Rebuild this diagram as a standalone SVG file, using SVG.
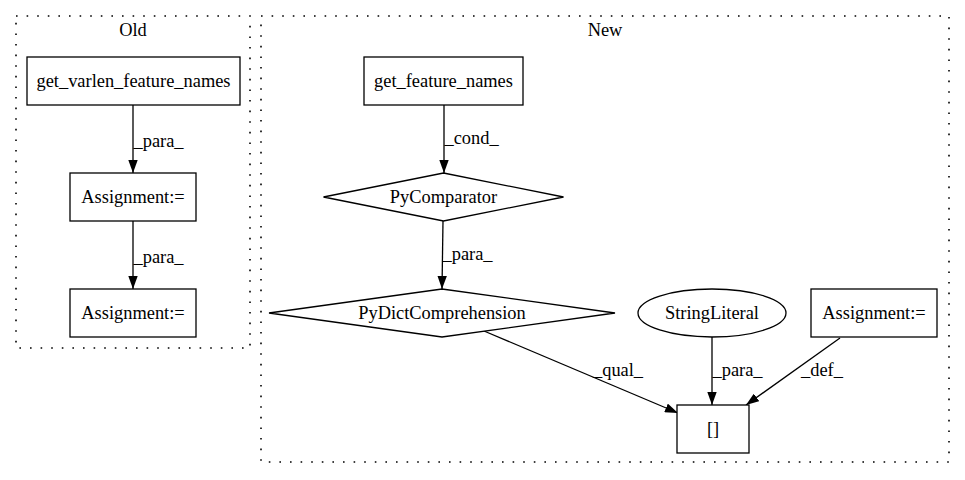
<svg xmlns="http://www.w3.org/2000/svg" width="965" height="480" viewBox="0 0 965 480">
<defs>
<style>
text { font-family: "Liberation Serif", "Times New Roman", serif; font-size: 18.4px; fill: #000; }
.c { text-anchor: middle; }
.cluster { fill: none; stroke: #000; stroke-dasharray: 1.6 9; stroke-width: 1.6; }
.node { fill: #fff; stroke: #000; stroke-width: 1.3; }
.edge { fill: none; stroke: #000; stroke-width: 1.3; }
</style>
<marker id="arr" markerWidth="13" markerHeight="9.4" refX="13" refY="4.7" orient="auto" markerUnits="userSpaceOnUse" viewBox="0 0 13 9.4">
<polygon points="0,0 13,4.7 0,9.4" fill="#000"/>
</marker>
</defs>
<rect width="965" height="480" fill="#fff"/>
<g id="cluster_old">
<rect class="cluster" x="16" y="16" width="234" height="332"/>
<text class="c" x="133" y="36">Old</text>
</g>
<g id="cluster_new">
<rect class="cluster" x="261" y="16" width="688" height="446"/>
<text class="c" x="605" y="36">New</text>
</g>
<g id="connectors">
<path class="edge" d="M133,105 L133,173" marker-end="url(#arr)"/>
<text x="133.5" y="147">_para_</text>
<path class="edge" d="M133,221 L133,289" marker-end="url(#arr)"/>
<text x="133.5" y="263">_para_</text>
<path class="edge" d="M444,105 L444,173" marker-end="url(#arr)"/>
<text x="444.5" y="144">_cond_</text>
<path class="edge" d="M443,221 L442,289" marker-end="url(#arr)"/>
<text x="442.5" y="260">_para_</text>
<path class="edge" d="M484,331 L678,413" marker-end="url(#arr)"/>
<text x="593" y="376">_qual_</text>
<path class="edge" d="M712,337 L712,405" marker-end="url(#arr)"/>
<text x="712.5" y="376">_para_</text>
<path class="edge" d="M840,338 L746,405" marker-end="url(#arr)"/>
<text x="801" y="376">_def_</text>
</g>
<g id="node_get_varlen_feature_names">
<rect class="node" x="27" y="57" width="213" height="48"/>
<text class="c" x="133.5" y="87">get_varlen_feature_names</text>
</g>
<g id="node_assignment_old1">
<rect class="node" x="70" y="173" width="126" height="48"/>
<text class="c" x="133" y="203">Assignment:=</text>
</g>
<g id="node_assignment_old2">
<rect class="node" x="70" y="289" width="126" height="48"/>
<text class="c" x="133" y="319">Assignment:=</text>
</g>
<g id="node_get_feature_names">
<rect class="node" x="364" y="57" width="159" height="48"/>
<text class="c" x="443.5" y="87">get_feature_names</text>
</g>
<g id="node_pycomparator">
<polygon class="node" points="443.5,173 563.5,197 443.5,221 323.5,197"/>
<text class="c" x="443.5" y="203">PyComparator</text>
</g>
<g id="node_pydictcomprehension">
<polygon class="node" points="442,289 615,313 442,337 269,313"/>
<text class="c" x="442" y="319">PyDictComprehension</text>
</g>
<g id="node_stringliteral">
<ellipse class="node" cx="712" cy="313" rx="74" ry="24"/>
<text class="c" x="712" y="319">StringLiteral</text>
</g>
<g id="node_assignment_new">
<rect class="node" x="811" y="289" width="126" height="48"/>
<text class="c" x="874" y="319">Assignment:=</text>
</g>
<g id="node_index">
<rect class="node" x="677" y="405" width="72" height="48"/>
<text class="c" x="713" y="435">[]</text>
</g>
</svg>
